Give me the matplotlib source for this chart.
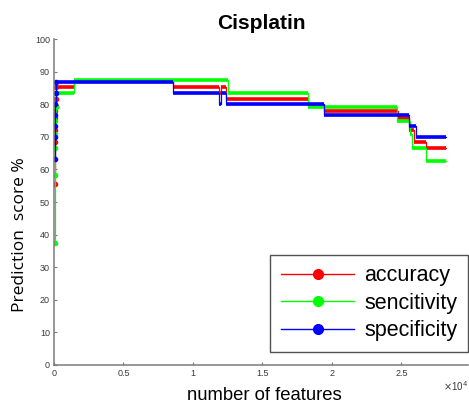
import matplotlib.pyplot as plt
from matplotlib.lines import Line2D

# step levels: each value holds from its x up to the next x (last one up to x_end)
x_end = 28200

acc_x = [40, 55, 70, 85, 100, 115, 130, 145, 1460, 8540, 11900, 12000, 12370,
         18300, 19400, 24770, 25540, 25900, 26800]
acc_y = [55.6, 68.5, 72.2, 75.9, 77.8, 79.6, 81.5, 85.2, 87.0, 85.2, 83.3, 85.2,
         81.5, 79.6, 77.8, 75.9, 72.2, 68.5, 66.7]

sens_x = [40, 55, 70, 85, 100, 115, 130, 1460, 12540, 18300, 24700, 25660,
          25800, 26800]
sens_y = [37.5, 58.3, 66.7, 70.8, 75.0, 79.2, 83.3, 87.5, 83.3, 79.2, 75.0,
          70.8, 66.7, 62.5]

spec_x = [40, 55, 70, 85, 100, 115, 130, 8540, 11900, 12000, 12400, 19400,
          25540, 26040]
spec_y = [63.3, 70.0, 73.3, 76.7, 80.0, 83.3, 86.7, 83.3, 80.0, 83.3, 80.0,
          76.7, 73.3, 70.0]

n_early = [8, 7, 7]  # first few points sit right at the start of the axis

labels = ['accuracy', 'sencitivity', 'specificity']
colors = ['#ff0000', '#00ff00', '#0000ff']

xticks = [0, 5000, 10000, 15000, 20000, 25000]
xticklabels = ['0', '0.5', '1', '1.5', '2', '2.5']
yticks = list(range(0, 101, 10))

fig = plt.figure(figsize=(4.69, 4.07), dpi=100)
ax = fig.add_axes([54/469, 42/407, 414/469, 326/407])

series = [(acc_x, acc_y), (sens_x, sens_y), (spec_x, spec_y)]
for (xs, ys), c, ne in zip(series, colors, n_early):
    ends = xs[1:] + [x_end]
    ax.plot(xs + [x_end], ys + [ys[-1]], drawstyle='steps-post', color=c, lw=0.9)
    ax.hlines(ys, xs, ends, colors=c, lw=2.6)
    ax.plot(xs[:ne], ys[:ne], 'o', color=c, ms=3, mec=c)

ax.set_xlim(0, 29800)
ax.set_ylim(0, 100)
ax.set_xticks(xticks)
ax.set_xticklabels(xticklabels)
ax.set_yticks(yticks)

for s in ['top', 'right']:
    ax.spines[s].set_visible(False)
for s in ['left', 'bottom']:
    ax.spines[s].set_color('#7a7a7a')
    ax.spines[s].set_linewidth(1.1)
ax.tick_params(direction='in', length=2.5, width=0.8, color='#7a7a7a',
               labelsize=6.5, labelcolor='#3a3a3a', pad=3)
for t in ax.get_xticklabels() + ax.get_yticklabels():
    t.set_family('Liberation Sans')

ax.set_title('Cisplatin', fontsize=15, fontweight='bold',
             family='Liberation Sans', pad=7)
ax.set_xlabel('number of features', fontsize=13.3, family='Liberation Sans')
ax.xaxis.set_label_coords(0.508, -0.066)
ax.set_ylabel('Prediction  score %', fontsize=12.5, family='Open Sans')
ax.yaxis.set_label_coords(-0.062, 0.40)

fig.text(0.999, 0.035, r'$\times$10$^{4}$', ha='right', va='bottom',
         fontsize=7, color='#3a3a3a', family='Liberation Sans')

handles = [Line2D([], [], color=c, lw=1, marker='o', ms=7) for c in colors]
leg = ax.legend(handles, labels, loc='lower right', bbox_to_anchor=(1.0, 0.04),
                borderaxespad=0, handlelength=3.4,
                handletextpad=0.45, labelspacing=0.3, borderpad=0.5,
                fancybox=False, prop={'family': 'Liberation Sans', 'size': 15.5})
leg.get_frame().set_edgecolor('#262626')
leg.get_frame().set_linewidth(1)

plt.savefig('out.png', dpi=100)
